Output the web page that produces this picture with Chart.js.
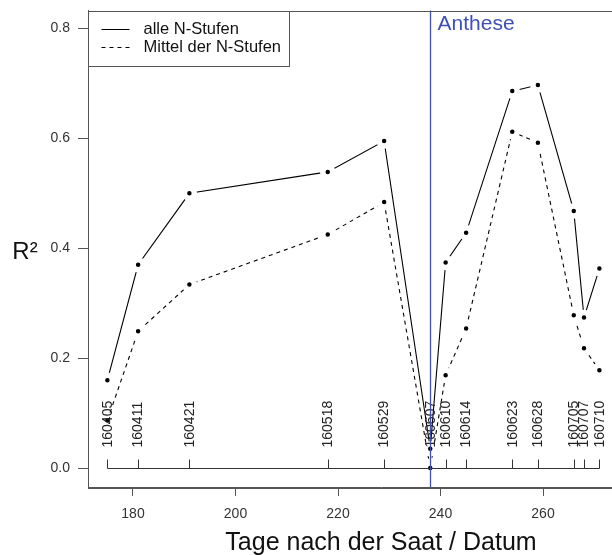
<!DOCTYPE html>
<html>
<head>
<meta charset="utf-8">
<script src="https://cdn.jsdelivr.net/npm/chart.js@4"></script>
<style>
  html, body { margin: 0; padding: 0; background: #fff; overflow: hidden; }
  #wrap { width: 700px; height: 555px; }
</style>
</head>
<body>
<div id="wrap"><canvas id="chart" width="700" height="555"></canvas></div>
<script>
// Tage nach der Saat und Datum der Messung
const tage = [175, 181, 191, 218, 229, 238, 241, 245, 254, 259, 266, 268, 271];
const datum = ['160405', '160411', '160421', '160518', '160529', '160607', '160610',
               '160614', '160623', '160628', '160705', '160707', '160710'];
// R² je Termin
const alleN   = [0.160, 0.370, 0.500, 0.539, 0.595, 0.035, 0.374, 0.428, 0.686, 0.697, 0.468, 0.274, 0.363];
const mittelN = [0.087, 0.249, 0.334, 0.425, 0.484, 0.000, 0.169, 0.254, 0.612, 0.592, 0.278, 0.218, 0.178];
const xTicks = [180, 200, 220, 240, 260];
const yTicks = [0.0, 0.2, 0.4, 0.6, 0.8];
const anthese = 238;

const FONT = '"Liberation Sans", Arial, sans-serif';
const BLAU = '#3f50b3';

// Rahmen, Datumsachse, Anthese-Linie, Legende und Achsentitel
const rahmen = {
  id: 'rahmen',
  afterDatasetsDraw(chart) {
    const { ctx, chartArea: a, scales: { x, y } } = chart;
    ctx.save();

    // Datumsachse bei R² = 0
    const y0 = Math.round(y.getPixelForValue(0)) + 0.5;
    ctx.strokeStyle = '#333';
    ctx.lineWidth = 1;
    ctx.beginPath();
    ctx.moveTo(Math.round(x.getPixelForValue(tage[0])) + 0.5, y0);
    ctx.lineTo(Math.round(x.getPixelForValue(tage[tage.length - 1])) + 0.5, y0);
    tage.forEach(t => {
      const px = Math.round(x.getPixelForValue(t)) + 0.5;
      ctx.moveTo(px, y0);
      ctx.lineTo(px, y0 - 9);
    });
    ctx.stroke();

    ctx.fillStyle = '#222';
    ctx.font = '14px ' + FONT;
    ctx.textAlign = 'left';
    ctx.textBaseline = 'middle';
    tage.forEach((t, i) => {
      ctx.save();
      ctx.translate(x.getPixelForValue(t) + 0.5, y0 - 21);
      ctx.rotate(-Math.PI / 2);
      ctx.fillText(datum[i], 0, 0);
      ctx.restore();
    });

    // Anthese
    const xa = Math.round(x.getPixelForValue(anthese)) + 0.5;
    ctx.strokeStyle = BLAU;
    ctx.lineWidth = 1.3;
    ctx.beginPath();
    ctx.moveTo(xa, a.top);
    ctx.lineTo(xa, a.bottom);
    ctx.stroke();
    ctx.fillStyle = BLAU;
    ctx.font = '21px ' + FONT;
    ctx.textBaseline = 'alphabetic';
    ctx.fillText('Anthese', xa + 7, 30);

    // Rahmen
    ctx.strokeStyle = '#555';
    ctx.lineWidth = 1;
    ctx.strokeRect(Math.round(a.left) + 0.5, Math.round(a.top) + 0.5,
                   Math.round(a.right - a.left), Math.round(a.bottom - a.top));

    // Legende
    const lx = Math.round(a.left) + 0.5, ly = Math.round(a.top) + 0.5;
    ctx.strokeRect(lx, ly, 201, 55);
    ctx.strokeStyle = '#000';
    ctx.beginPath();
    ctx.moveTo(lx + 13, ly + 18);
    ctx.lineTo(lx + 41, ly + 18);
    ctx.stroke();
    ctx.setLineDash([4, 4]);
    ctx.beginPath();
    ctx.moveTo(lx + 13, ly + 36);
    ctx.lineTo(lx + 41, ly + 36);
    ctx.stroke();
    ctx.setLineDash([]);
    ctx.fillStyle = '#111';
    ctx.font = '16.5px ' + FONT;
    ctx.textBaseline = 'middle';
    ctx.fillText(chart.data.datasets[0].label, lx + 55, ly + 18);
    ctx.fillText(chart.data.datasets[1].label, lx + 55, ly + 36);

    // Achsentitel
    ctx.fillStyle = '#111';
    ctx.font = '25px ' + FONT;
    ctx.textAlign = 'center';
    ctx.textBaseline = 'alphabetic';
    ctx.fillText('Tage nach der Saat / Datum', (a.left + a.right) / 2, 550);
    ctx.font = '24px ' + FONT;
    ctx.fillText('R²', 25, (a.top + a.bottom) / 2 + 10);

    ctx.restore();
  }
};

const ctx = document.getElementById('chart').getContext('2d');

const chart = new Chart(ctx, {
  type: 'line',
  data: {
    datasets: [
      {
        label: 'alle N-Stufen',
        data: tage.map((t, i) => ({ x: t, y: alleN[i] })),
        borderColor: '#000',
        borderWidth: 1.1,
        pointRadius: 5,
        pointBorderWidth: 5.5,
        pointBorderColor: '#fff',
        pointBackgroundColor: '#000',
        tension: 0
      },
      {
        label: 'Mittel der N-Stufen',
        data: tage.map((t, i) => ({ x: t, y: mittelN[i] })),
        borderColor: '#000',
        borderWidth: 1.1,
        borderDash: [4, 4],
        pointRadius: 5,
        pointBorderWidth: 5.5,
        pointBorderColor: '#fff',
        pointBackgroundColor: '#000',
        tension: 0
      }
    ]
  },
  options: {
    responsive: false,
    animation: false,
    devicePixelRatio: 1,
    layout: { padding: { left: 0, top: 9, right: 26, bottom: 0 } },
    plugins: {
      legend: { display: false },
      tooltip: { enabled: false }
    },
    scales: {
      x: {
        type: 'linear',
        min: 171.22,
        max: 285.56,
        afterBuildTicks: s => { s.ticks = xTicks.map(v => ({ value: v })); },
        afterFit: s => { s.height = 68; s.paddingLeft = 0; s.paddingRight = 0; },
        grid: { drawOnChartArea: false, tickLength: 9, color: '#555' },
        border: { color: '#555' },
        ticks: {
          padding: 10,
          color: '#333',
          font: { family: FONT, size: 14 },
          maxRotation: 0
        }
      },
      y: {
        min: -0.0345,
        max: 0.8327,
        afterBuildTicks: s => { s.ticks = yTicks.map(v => ({ value: v })); },
        afterFit: s => { s.width = 88; s.paddingTop = 0; s.paddingBottom = 0; },
        grid: { drawOnChartArea: false, tickLength: 10, color: '#555' },
        border: { color: '#555' },
        ticks: {
          padding: 8,
          color: '#333',
          font: { family: FONT, size: 14 },
          callback: v => v.toFixed(1)
        }
      }
    }
  },
  plugins: [rahmen]
});
</script>
</body>
</html>
